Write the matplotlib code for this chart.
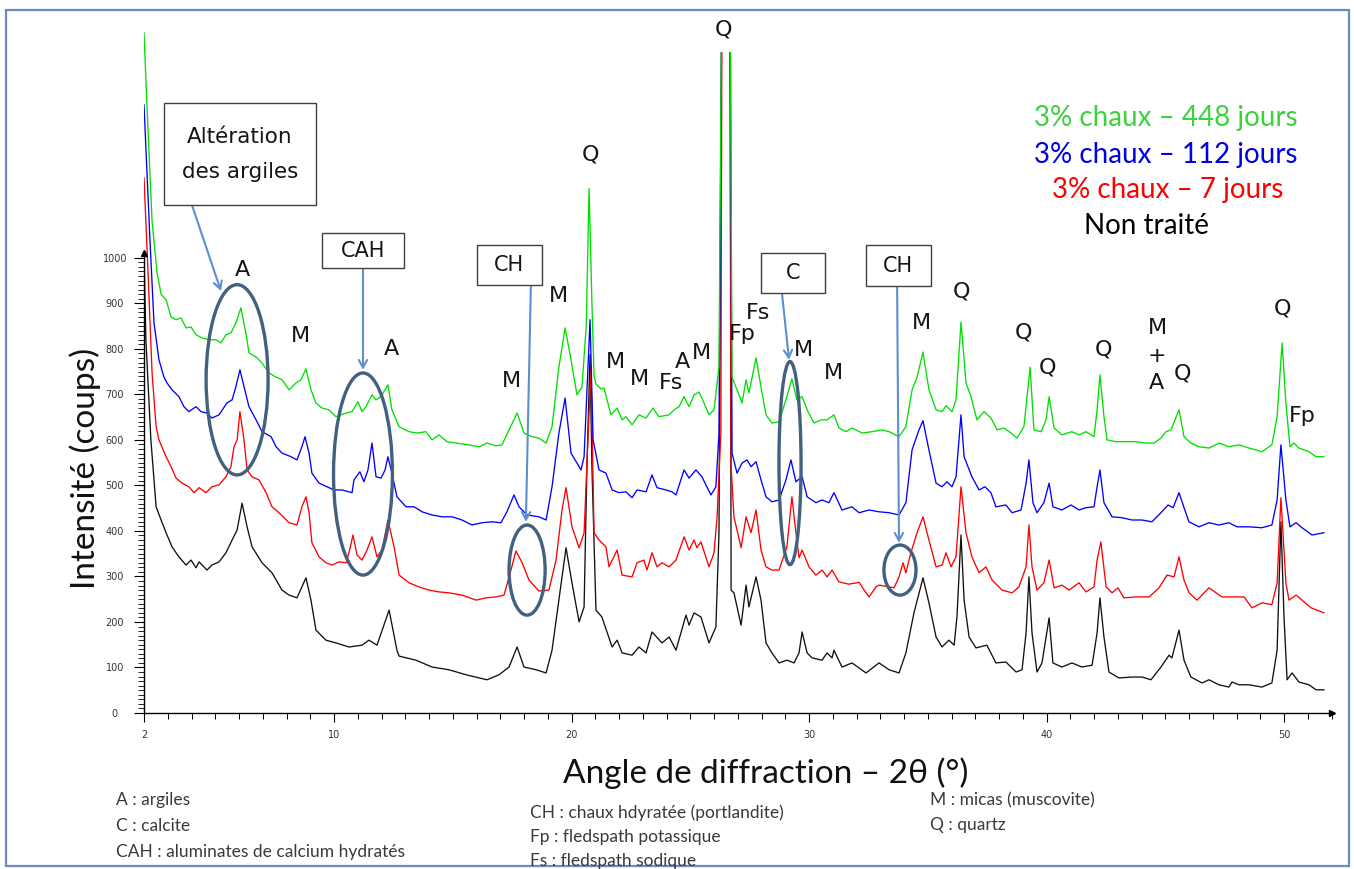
import numpy as np
import matplotlib
matplotlib.use("Agg")
import matplotlib.pyplot as plt
from matplotlib.patches import Ellipse, Rectangle
from matplotlib.path import Path

# ---------------------------------------------------------------- data
# 2theta (deg) / intensity (counts) for each sample
x_ref = [2.00, 2.08, 2.29, 2.51, 2.72, 2.93, 3.18, 3.47, 3.77, 3.98, 4.19, 4.32, 4.65, 4.86, 5.16, 5.45,
         5.71, 5.92, 6.13, 6.34, 6.55, 6.97, 7.39, 7.81, 8.11, 8.44, 8.82, 9.03, 9.24, 9.66, 10.08, 10.63,
         11.18, 11.47, 11.81, 12.32, 12.65, 12.74, 13.45, 14.13, 14.84, 15.56, 16.44, 16.95, 17.37, 17.71,
         18.00, 18.51, 18.93, 19.18, 19.47, 19.77, 20.02, 20.32, 20.53, 20.65, 20.78, 20.86, 21.03, 21.28,
         21.71, 21.92, 22.13, 22.55, 22.84, 23.14, 23.39, 23.81, 24.11, 24.40, 24.82, 24.95, 25.16, 25.45,
         25.79, 26.08, 26.21, 26.34, 26.67, 26.72, 26.84, 26.97, 27.14, 27.35, 27.47, 27.77, 27.98, 28.19,
         28.44, 28.74, 29.07, 29.37, 29.58, 29.71, 29.92, 30.13, 30.55, 30.76, 30.97, 31.05, 31.39, 31.81,
         32.40, 32.95, 33.37, 33.79, 34.08, 34.42, 34.80, 35.05, 35.35, 35.60, 35.89, 36.11, 36.23, 36.40,
         36.53, 36.74, 37.03, 37.49, 37.87, 38.29, 38.72, 38.97, 39.14, 39.26, 39.39, 39.60, 39.81, 40.11,
         40.27, 40.65, 41.07, 41.49, 41.92, 42.13, 42.25, 42.42, 42.63, 43.05, 43.60, 44.02, 44.40, 44.82,
         45.16, 45.28, 45.58, 45.79, 46.08, 46.55, 46.84, 47.26, 47.68, 47.81, 48.11, 48.53, 49.07, 49.49,
         49.71, 49.87, 50.00, 50.13, 50.34, 50.63, 51.05, 51.35, 51.68]
y_ref = [1010, 820, 600, 453, 424, 396, 365, 343, 325, 336, 319, 332, 314, 325, 332, 352,
         380, 402, 461, 409, 365, 330, 308, 270, 259, 253, 297, 248, 182, 160, 154, 145,
         149, 160, 149, 226, 138, 125, 116, 101, 95, 84, 73, 84, 101, 145,
         101, 95, 88, 138, 248, 363, 286, 200, 233, 541, 787, 541, 226, 211,
         145, 160, 132, 127, 145, 132, 178, 154, 167, 138, 215, 193, 220, 211,
         154, 189, 396, 1700, 1700, 270, 264, 233, 193, 281, 233, 299, 248, 154,
         132, 110, 116, 110, 132, 178, 132, 121, 116, 132, 121, 138, 101, 110,
         88, 110, 95, 88, 132, 220, 297, 242, 167, 145, 160, 149, 211, 391,
         248, 167, 143, 149, 110, 112, 90, 95, 176, 299, 176, 90, 110, 209,
         110, 101, 110, 101, 105, 176, 253, 167, 90, 77, 79, 79, 73, 101,
         127, 121, 182, 116, 79, 66, 73, 62, 57, 68, 62, 62, 57, 66,
         138, 420, 211, 73, 88, 68, 62, 51, 51]

x_7d = [2.00, 2.17, 2.34, 2.51, 2.63, 2.93, 3.14, 3.35, 3.60, 3.89, 4.11, 4.32, 4.61, 4.86, 5.16, 5.45,
        5.66, 5.79, 5.92, 6.04, 6.21, 6.34, 6.55, 6.84, 7.14, 7.39, 7.68, 8.11, 8.44, 8.65, 8.82, 8.95,
        9.07, 9.37, 9.66, 9.92, 10.21, 10.51, 10.63, 10.80, 10.97, 11.18, 11.39, 11.60, 11.81, 12.02, 12.27,
        12.53, 12.74, 13.16, 13.58, 14.00, 14.42, 14.84, 15.39, 15.98, 16.40, 16.82, 17.16, 17.45, 17.66,
        17.92, 18.21, 18.63, 19.05, 19.35, 19.60, 19.77, 20.02, 20.32, 20.53, 20.82, 20.95, 21.16, 21.45,
        21.58, 21.92, 22.13, 22.55, 22.76, 23.05, 23.18, 23.39, 23.60, 23.81, 24.11, 24.40, 24.74, 24.95,
        25.16, 25.28, 25.45, 25.79, 26.00, 26.13, 26.29, 26.34, 26.67, 26.72, 26.84, 27.14, 27.35, 27.56,
        27.77, 27.98, 28.19, 28.44, 28.74, 29.07, 29.28, 29.45, 29.58, 29.71, 30.00, 30.29, 30.55, 30.76,
        30.97, 31.26, 31.68, 32.11, 32.32, 32.53, 32.82, 32.95, 33.37, 33.58, 33.79, 33.96, 34.08, 34.29,
        34.55, 34.80, 35.05, 35.35, 35.60, 35.77, 35.98, 36.19, 36.40, 36.61, 36.86, 37.16, 37.45, 37.71,
        38.13, 38.55, 38.84, 39.14, 39.26, 39.39, 39.60, 39.89, 40.11, 40.32, 40.65, 40.95, 41.37, 41.66,
        42.00, 42.13, 42.29, 42.51, 42.76, 43.01, 43.26, 43.77, 44.32, 44.74, 45.07, 45.37, 45.58, 45.79,
        46.00, 46.34, 46.84, 47.14, 47.39, 47.81, 48.32, 48.65, 49.07, 49.49, 49.71, 49.87, 50.08, 50.21,
        50.51, 50.76, 51.14, 51.39, 51.68]
y_7d = [1176, 967, 747, 629, 600, 563, 541, 516, 505, 497, 484, 495, 484, 497, 501, 519,
        541, 585, 600, 662, 600, 534, 519, 512, 484, 453, 440, 418, 413, 453, 475, 440,
        374, 343, 330, 325, 332, 330, 352, 391, 347, 336, 358, 387, 343, 358, 424,
        365, 303, 286, 277, 270, 266, 264, 259, 248, 253, 255, 259, 314, 356,
        330, 292, 268, 270, 336, 446, 495, 409, 363, 396, 760, 396, 380, 365,
        321, 358, 303, 299, 330, 336, 314, 352, 321, 330, 321, 336, 387, 358,
        380, 363, 376, 321, 352, 431, 615, 1700, 1700, 541, 431, 363, 431, 396,
        446, 358, 321, 314, 314, 365, 475, 396, 341, 358, 321, 303, 314, 299,
        314, 288, 283, 287, 270, 255, 277, 281, 277, 275, 299, 330, 308, 352,
        396, 431, 380, 321, 325, 352, 321, 343, 497, 396, 343, 308, 321, 292,
        270, 264, 277, 321, 413, 321, 270, 286, 336, 275, 281, 270, 286, 266,
        277, 336, 376, 277, 264, 275, 253, 255, 255, 275, 303, 299, 343, 292,
        264, 248, 275, 264, 255, 255, 255, 231, 242, 238, 286, 473, 286, 248,
        259, 248, 231, 226, 220]

x_112d = [2.00, 2.25, 2.42, 2.63, 2.84, 2.97, 3.18, 3.47, 3.68, 3.89, 4.19, 4.40, 4.65, 4.86, 5.16, 5.49,
          5.71, 5.87, 6.04, 6.21, 6.42, 6.72, 6.97, 7.35, 7.56, 7.81, 8.19, 8.44, 8.65, 8.78, 8.95, 9.07,
          9.37, 9.71, 10.00, 10.34, 10.76, 10.84, 11.09, 11.26, 11.43, 11.60, 11.77, 11.98, 12.15, 12.27,
          12.44, 12.65, 13.03, 13.37, 13.71, 14.13, 14.55, 14.97, 15.39, 15.81, 16.23, 16.65, 17.03, 17.28,
          17.58, 17.79, 18.13, 18.63, 18.93, 19.18, 19.47, 19.73, 19.98, 20.40, 20.53, 20.78, 20.91, 21.16,
          21.45, 21.71, 22.00, 22.29, 22.55, 22.76, 23.14, 23.39, 23.60, 23.98, 24.23, 24.40, 24.74, 24.95,
          25.24, 25.49, 25.87, 26.08, 26.21, 26.34, 26.67, 26.76, 26.97, 27.18, 27.39, 27.56, 27.77, 27.98,
          28.19, 28.44, 28.74, 29.03, 29.24, 29.45, 29.71, 29.92, 30.29, 30.55, 30.84, 31.05, 31.39, 31.81,
          32.11, 32.53, 32.95, 33.37, 33.79, 34.08, 34.34, 34.63, 34.80, 35.05, 35.35, 35.60, 35.81, 36.02,
          36.19, 36.40, 36.53, 36.86, 37.16, 37.41, 37.66, 37.87, 38.29, 38.55, 38.93, 39.14, 39.26, 39.43,
          39.60, 39.89, 40.11, 40.27, 40.65, 41.03, 41.37, 41.66, 42.00, 42.13, 42.25, 42.42, 42.76, 43.18,
          43.60, 44.02, 44.44, 44.82, 45.12, 45.33, 45.58, 45.79, 46.00, 46.42, 46.84, 47.26, 47.68, 48.02,
          48.53, 49.07, 49.49, 49.71, 49.87, 50.08, 50.25, 50.51, 50.76, 51.18, 51.68]
y_112d = [1336, 1040, 857, 776, 738, 725, 710, 695, 673, 662, 673, 662, 659, 648, 655, 681,
          688, 717, 754, 717, 673, 644, 618, 607, 585, 571, 563, 556, 585, 607, 571, 527,
          505, 497, 490, 490, 484, 512, 530, 508, 534, 593, 519, 516, 534, 563,
          527, 475, 453, 453, 442, 435, 431, 431, 424, 413, 418, 420, 418, 442,
          479, 453, 435, 431, 424, 497, 615, 692, 571, 534, 563, 864, 600, 534,
          527, 490, 484, 486, 473, 490, 486, 523, 495, 490, 486, 479, 534, 516,
          534, 519, 479, 497, 615, 1700, 1700, 571, 527, 549, 556, 541, 552, 512,
          475, 464, 468, 512, 556, 508, 519, 475, 462, 468, 462, 484, 446, 453,
          440, 446, 442, 440, 435, 462, 578, 622, 642, 578, 505, 497, 508, 497,
          519, 655, 563, 519, 490, 497, 484, 453, 457, 440, 446, 505, 556, 462,
          440, 462, 505, 453, 446, 457, 446, 451, 453, 497, 534, 462, 431, 429,
          424, 424, 420, 440, 457, 451, 484, 451, 420, 409, 418, 413, 418, 409,
          409, 407, 413, 468, 589, 468, 409, 418, 407, 391, 396]

x_448d = [2.00, 2.13, 2.34, 2.55, 2.72, 2.93, 3.14, 3.35, 3.56, 3.77, 3.98, 4.19, 4.44, 4.74, 5.03, 5.24,
          5.45, 5.66, 5.87, 6.08, 6.29, 6.42, 6.72, 6.97, 7.26, 7.56, 7.81, 8.11, 8.40, 8.61, 8.82, 9.03,
          9.24, 9.49, 9.79, 10.08, 10.51, 10.76, 11.01, 11.18, 11.35, 11.60, 11.77, 11.98, 12.27, 12.44,
          12.74, 13.16, 13.49, 13.87, 14.13, 14.42, 14.76, 15.14, 15.68, 16.11, 16.44, 16.82, 17.07, 17.37,
          17.71, 18.00, 18.34, 18.63, 18.93, 19.18, 19.47, 19.73, 19.98, 20.23, 20.44, 20.62, 20.74, 20.86,
          20.95, 21.03, 21.24, 21.37, 21.66, 21.92, 22.13, 22.29, 22.55, 22.84, 23.14, 23.43, 23.68, 24.11,
          24.32, 24.53, 24.74, 24.95, 25.16, 25.37, 25.58, 25.79, 26.00, 26.21, 26.34, 26.67, 26.76, 26.97,
          27.18, 27.35, 27.47, 27.77, 27.98, 28.19, 28.44, 28.74, 29.03, 29.28, 29.49, 29.71, 29.92, 30.21,
          30.51, 30.76, 31.05, 31.26, 31.56, 31.81, 32.24, 32.65, 33.07, 33.37, 33.79, 34.08, 34.34, 34.55,
          34.80, 35.05, 35.35, 35.60, 35.77, 36.02, 36.19, 36.40, 36.61, 36.82, 37.07, 37.37, 37.66, 37.92,
          38.21, 38.51, 38.76, 39.05, 39.31, 39.47, 39.77, 39.98, 40.11, 40.32, 40.65, 41.07, 41.37, 41.66,
          42.00, 42.13, 42.25, 42.42, 42.55, 42.93, 43.35, 43.77, 44.19, 44.53, 44.82, 45.03, 45.24, 45.58,
          45.79, 46.08, 46.42, 46.84, 47.26, 47.68, 48.11, 48.53, 49.07, 49.49, 49.71, 49.92, 50.08, 50.25,
          50.42, 50.63, 51.05, 51.35, 51.68]
y_448d = [1494, 1327, 1080, 967, 920, 908, 870, 864, 868, 846, 848, 831, 824, 820, 820, 813,
          831, 835, 857, 890, 835, 791, 782, 769, 747, 738, 732, 710, 725, 732, 756, 710,
          681, 670, 666, 651, 659, 662, 684, 662, 673, 699, 688, 695, 721, 666,
          629, 618, 615, 618, 600, 611, 596, 593, 589, 585, 593, 587, 589, 622,
          659, 615, 607, 604, 593, 629, 760, 846, 776, 699, 716, 850, 1152, 900,
          740, 723, 712, 714, 655, 670, 644, 651, 633, 655, 648, 670, 651, 655,
          666, 673, 695, 673, 699, 705, 681, 655, 666, 760, 1700, 1700, 738, 710,
          681, 732, 703, 780, 716, 655, 637, 640, 688, 734, 688, 695, 666, 637,
          644, 644, 655, 626, 618, 626, 615, 618, 622, 618, 607, 629, 710, 738,
          793, 710, 666, 662, 675, 662, 688, 859, 725, 695, 644, 662, 648, 622,
          626, 615, 604, 629, 760, 622, 618, 644, 695, 626, 611, 618, 611, 618,
          607, 666, 743, 651, 600, 596, 596, 596, 593, 593, 604, 618, 622, 666,
          607, 593, 585, 582, 593, 585, 589, 582, 574, 589, 651, 813, 681, 585,
          593, 582, 574, 563, 563]

series_names = ["3% chaux \u2013 448 jours", "3% chaux \u2013 112 jours",
                "3% chaux \u2013 7 jours", "Non trait\u00e9"]
series_colors = ["#00e000", "#0000ff", "#ff0000", "#111111"]
label_colors = ["#3bd23b", "#0000e0", "#ff0000", "#000000"]

# phase labels above the peaks: (text, 2theta, counts)
peak_text = ["Q", "Q", "M", "A", "M", "A", "M", "M", "M", "Fs", "A", "M", "Fp", "Fs",
             "M", "M", "M", "Q", "Q", "Q", "Q", "M", "+", "A", "Q", "Q", "Fp"]
peak_x = [26.38, 20.78, 19.47, 6.13, 8.57, 12.44, 17.45, 21.87, 22.88, 24.19, 24.69, 25.49, 27.18, 27.85,
          29.75, 31.05, 34.72, 36.40, 39.05, 40.06, 42.42, 44.69, 44.65, 44.65, 45.71, 49.92, 50.76]
peak_y = [1501, 1226, 916, 974, 829, 800, 730, 771, 734, 725, 771, 791, 833, 879,
          798, 747, 857, 925, 835, 760, 798, 846, 785, 725, 745, 888, 653]

x_ticks = [2, 10, 20, 30, 40, 50]
y_ticks = [0, 100, 200, 300, 400, 500, 600, 700, 800, 900, 1000]

notes_col1 = ["A : argiles", "C : calcite", "CAH : aluminates de calcium hydrat\u00e9s"]
notes_col2 = ["CH : chaux hdyrat\u00e9e (portlandite)", "Fp : fledspath potassique",
              "Fs : fledspath sodique"]
notes_col3 = ["M : micas (muscovite)", "Q : quartz"]

# ---------------------------------------------------------------- figure
W, H = 1354, 869
fig = plt.figure(figsize=(W / 100, H / 100), dpi=100)
ax = fig.add_axes([144 / W, 156 / H, 1187.5 / W, 701 / H])
ax.set_xlim(2, 52)
ax.set_ylim(0, 1540)

# the strongest quartz reflection runs off scale: hide the part above 1452
clip = Path([(0, -200), (60, -200), (60, 2000), (27.6, 2000), (27.6, 1452),
             (25.6, 1452), (25.6, 2000), (0, 2000), (0, -200)], closed=True)

curves = [(x_ref, y_ref, 3), (x_7d, y_7d, 2), (x_112d, y_112d, 1), (x_448d, y_448d, 0)]
for xs, ys, k in curves:
    ln, = ax.plot(xs, ys, color=series_colors[k], lw=0.95, zorder=2)
    ln.set_clip_path(clip, ax.transData)

# spines / ticks
for s in ("top", "right"):
    ax.spines[s].set_visible(False)
ax.spines["left"].set_bounds(0, 1010)
ax.spines["bottom"].set_bounds(2, 52)
ax.spines["left"].set_linewidth(1.0)
ax.spines["bottom"].set_linewidth(1.0)
ax.plot([2], [1010], marker="^", ms=4, color="black", clip_on=False, zorder=3)
ax.plot([52], [0], marker=">", ms=4, color="black", clip_on=False, zorder=3)

ax.set_xticks(x_ticks)
ax.set_xticklabels([str(t) for t in x_ticks])
ax.set_xticks(np.arange(2, 53, 1), minor=True)
ax.set_yticks(y_ticks)
ax.set_yticklabels([str(t) for t in y_ticks])
ax.set_yticks(np.arange(0, 1001, 10), minor=True)
ax.tick_params(axis="x", which="major", length=6.5, width=0.8, pad=6, labelsize=7, labelcolor="#333333")
ax.tick_params(axis="x", which="minor", length=4, width=0.7)
ax.tick_params(axis="y", which="major", length=7, width=0.8, pad=14, labelsize=7, labelcolor="#333333")
ax.tick_params(axis="y", which="minor", length=4.5, width=0.6)
for lbl in ax.get_yticklabels():
    lbl.set_horizontalalignment("center")

# phase labels
for t, px_, py_ in zip(peak_text, peak_x, peak_y):
    ax.text(px_, py_, t, fontsize=16, ha="center", va="center", color="#151515",
            family="DejaVu Sans", zorder=6, clip_on=False)

# ellipses around the zones of interest
ell_color = "#42607f"
for cx, cy, w, h in [(5.92, 732, 2.61, 418), (11.22, 525, 2.48, 444), (18.13, 314, 1.52, 198),
                     (29.20, 549, 0.93, 446), (33.83, 314, 1.35, 110)]:
    ax.add_patch(Ellipse((cx, cy), w, h, fill=False, edgecolor=ell_color, lw=2.4, zorder=4))

# arrows
arr_color = "#5b8fd0"
for (x0, y0), (x1, y1) in [((4.02, 1116), (5.24, 927)), ((11.22, 978), (11.22, 754)),
                           ((18.29, 941), (18.08, 420)), ((28.86, 923), (29.16, 776)),
                           ((33.71, 938), (33.79, 374))]:
    ax.annotate("", xy=(x1, y1), xytext=(x0, y0),
                arrowprops=dict(arrowstyle="->,head_length=0.55,head_width=0.3",
                                color=arr_color, lw=1.5, shrinkA=0, shrinkB=0), zorder=5)

# framed captions
for x0, x1, y0, y1 in [(2.84, 9.24, 1116, 1341), (9.49, 12.95, 978, 1055), (16.02, 18.76, 941, 1029),
                       (27.98, 30.67, 923, 1011), (32.40, 35.14, 938, 1029)]:
    ax.add_patch(Rectangle((x0, y0), x1 - x0, y1 - y0, facecolor="white", edgecolor="#404040",
                           lw=1.0, zorder=6, clip_on=False))
for t, cx, cy, fs in [("Alt\u00e9ration", 6.04, 1266, 15.5), ("des argiles", 6.04, 1189, 15.5),
                      ("CAH", 11.22, 1015, 15), ("CH", 17.37, 985, 15), ("C", 29.33, 967, 15),
                      ("CH", 33.75, 982, 15)]:
    ax.text(cx, cy, t, fontsize=fs, ha="center", va="center", color="#151515", zorder=7)

# series key (top right)
sans = ["Lato", "DejaVu Sans"]
for name, col, (fx, fy) in zip(series_names, label_colors,
                               [(0.8612, 0.8642), (0.8612, 0.8216), (0.8626, 0.7814), (0.8471, 0.7399)]):
    fig.text(fx, fy, name, color=col, fontsize=20, ha="center", va="center", family=sans)

# axis titles
fig.text(0.0628, 0.4614, "Intensit\u00e9 (coups)", rotation=90, fontsize=24, ha="center", va="center",
         family=sans, color="#111111")
fig.text(0.5657, 0.1105, "Angle de diffraction \u2013 2\u03b8 (\u00b0)", fontsize=24, ha="center",
         va="center", family=sans, color="#111111")

# abbreviations
for col_x, lines, ys in [(0.0857, notes_col1, [0.0794, 0.0495, 0.0196]),
                         (0.3914, notes_col2, [0.0644, 0.0368, 0.0092]),
                         (0.6869, notes_col3, [0.0794, 0.0506])]:
    for t, fy in zip(lines, ys):
        fig.text(col_x, fy, t, fontsize=12.5, ha="left", va="center", family=sans, color="#3a3a3a")

# outer frame
fig.patches.append(Rectangle((6 / W, 3 / H), 1343 / W, 856 / H, transform=fig.transFigure,
                             fill=False, edgecolor="#6a8cb8", lw=1.6))

fig.savefig("out.png", dpi=100)
